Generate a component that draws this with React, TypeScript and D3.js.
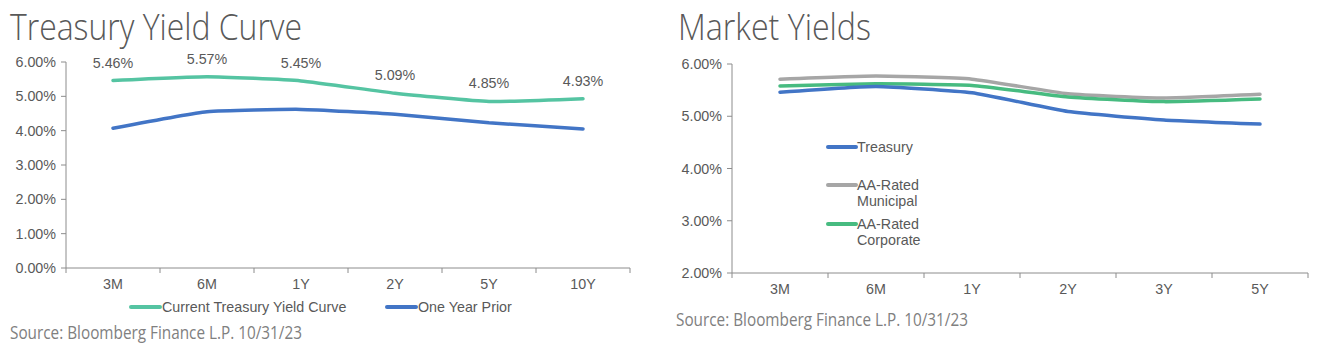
import { useRef, useEffect } from 'react';
import * as d3 from 'd3';

const leftTenors = ['3M', '6M', '1Y', '2Y', '5Y', '10Y'];
const currentCurve = [5.46, 5.57, 5.45, 5.09, 4.85, 4.93];
const priorCurve = [4.07, 4.55, 4.62, 4.48, 4.23, 4.05];
const leftTicks = [0, 1, 2, 3, 4, 5, 6];

const rightTenors = ['3M', '6M', '1Y', '2Y', '3Y', '5Y'];
const treasury = [5.46, 5.57, 5.45, 5.09, 4.93, 4.85];
const municipal = [5.71, 5.77, 5.71, 5.43, 5.35, 5.42];
const corporate = [5.58, 5.62, 5.59, 5.37, 5.28, 5.33];
const rightTicks = [2, 3, 4, 5, 6];

const TEXT = '#595959';
const AXIS = '#8c8c8c';
const GREEN_L = '#55c4a2';
const GREEN_R = '#47bb80';
const BLUE = '#4275c6';
const GRAY = '#a6a6a6';

export default function App() {
  const svgRef = useRef<SVGSVGElement>(null);

  useEffect(() => {
    if (!svgRef.current) return;
    const svg = d3.select(svgRef.current);
    svg.selectAll('*').remove();

    const tickFont = 'Liberation Sans, Arial, sans-serif';
    const titleFont = 'Open Sans, sans-serif';
    const fs = 14.3;

    const drawAxes = (
      x: d3.ScaleBand<string>,
      y: d3.ScaleLinear<number, number>,
      ticks: number[]
    ) => {
      const [x0, x1] = x.range();
      const [yb, yt] = y.range();
      const g = svg.append('g');
      // y axis line + ticks
      g.append('line').attr('x1', x0).attr('x2', x0).attr('y1', yb).attr('y2', yt)
        .attr('stroke', AXIS).attr('stroke-width', 1);
      ticks.forEach(t => {
        g.append('line').attr('x1', x0 - 5).attr('x2', x0).attr('y1', y(t)).attr('y2', y(t))
          .attr('stroke', AXIS);
        g.append('text').attr('x', x0 - 10).attr('y', y(t)).attr('dy', '0.35em')
          .attr('text-anchor', 'end').attr('font-family', tickFont).attr('font-size', fs)
          .attr('fill', TEXT).text(`${t.toFixed(2)}%`);
      });
      // x axis
      g.append('line').attr('x1', x0).attr('x2', x1).attr('y1', yb).attr('y2', yb)
        .attr('stroke', AXIS);
      const bounds = x.domain().map(d => x(d)!).concat([x1]);
      bounds.forEach(b => {
        g.append('line').attr('x1', b).attr('x2', b).attr('y1', yb).attr('y2', yb + 5)
          .attr('stroke', AXIS);
      });
      x.domain().forEach(d => {
        g.append('text').attr('x', x(d)! + x.bandwidth() / 2).attr('y', yb + 21)
          .attr('text-anchor', 'middle').attr('font-family', tickFont).attr('font-size', fs)
          .attr('fill', TEXT).text(d);
      });
    };

    const drawLine = (
      x: d3.ScaleBand<string>,
      y: d3.ScaleLinear<number, number>,
      cats: string[],
      vals: number[],
      color: string
    ) => {
      const line = d3.line<number>()
        .x((_, i) => x(cats[i])! + x.bandwidth() / 2)
        .y(d => y(d))
        .curve(d3.curveCardinal.tension(0.55));
      svg.append('path').datum(vals).attr('d', line).attr('fill', 'none')
        .attr('stroke', color).attr('stroke-width', 3.5).attr('stroke-linecap', 'round');
    };

    // ---- Treasury Yield Curve ----
    const xL = d3.scaleBand<string>().domain(leftTenors).range([66, 630]);
    const yL = d3.scaleLinear().domain([0, 6]).range([268, 62]);

    svg.append('text').attr('x', 10).attr('y', 40).attr('font-family', titleFont)
      .attr('font-weight', 300).attr('font-size', 36).attr('fill', TEXT)
      .attr('textLength', 292).attr('lengthAdjust', 'spacingAndGlyphs')
      .text('Treasury Yield Curve');

    drawAxes(xL, yL, leftTicks);
    drawLine(xL, yL, leftTenors, priorCurve, BLUE);
    drawLine(xL, yL, leftTenors, currentCurve, GREEN_L);

    currentCurve.forEach((v, i) => {
      svg.append('text').attr('x', xL(leftTenors[i])! + xL.bandwidth() / 2).attr('y', yL(v) - 13)
        .attr('text-anchor', 'middle').attr('font-family', tickFont).attr('font-size', fs)
        .attr('fill', TEXT).text(`${v.toFixed(2)}%`);
    });

    // legend
    const legL = [
      { label: 'Current Treasury Yield Curve', color: GREEN_L, x: 131 },
      { label: 'One Year Prior', color: BLUE, x: 387 },
    ];
    legL.forEach(l => {
      svg.append('line').attr('x1', l.x).attr('x2', l.x + 29).attr('y1', 307).attr('y2', 307)
        .attr('stroke', l.color).attr('stroke-width', 4).attr('stroke-linecap', 'round');
      svg.append('text').attr('x', l.x + 31).attr('y', 307).attr('dy', '0.35em')
        .attr('font-family', tickFont).attr('font-size', fs).attr('fill', TEXT).text(l.label);
    });

    svg.append('text').attr('x', 10).attr('y', 339).attr('font-family', titleFont)
      .attr('font-size', 17.5).attr('fill', '#808080')
      .attr('textLength', 292).attr('lengthAdjust', 'spacingAndGlyphs')
      .text('Source: Bloomberg Finance L.P. 10/31/23');

    // ---- Market Yields ----
    const xR = d3.scaleBand<string>().domain(rightTenors).range([732, 1308]);
    const yR = d3.scaleLinear().domain([2, 6]).range([273, 64]);

    svg.append('text').attr('x', 678).attr('y', 40).attr('font-family', titleFont)
      .attr('font-weight', 300).attr('font-size', 36).attr('fill', TEXT)
      .attr('textLength', 193).attr('lengthAdjust', 'spacingAndGlyphs')
      .text('Market Yields');

    drawAxes(xR, yR, rightTicks);
    drawLine(xR, yR, rightTenors, municipal, GRAY);
    drawLine(xR, yR, rightTenors, corporate, GREEN_R);
    drawLine(xR, yR, rightTenors, treasury, BLUE);

    const legR = [
      { lines: ['Treasury'], color: BLUE, y: 147 },
      { lines: ['AA-Rated', 'Municipal'], color: GRAY, y: 185 },
      { lines: ['AA-Rated', 'Corporate'], color: GREEN_R, y: 224 },
    ];
    legR.forEach(l => {
      svg.append('line').attr('x1', 828).attr('x2', 856).attr('y1', l.y).attr('y2', l.y)
        .attr('stroke', l.color).attr('stroke-width', 4).attr('stroke-linecap', 'round');
      l.lines.forEach((t, j) => {
        svg.append('text').attr('x', 857).attr('y', l.y + j * 16).attr('dy', '0.35em')
          .attr('font-family', tickFont).attr('font-size', fs).attr('fill', TEXT).text(t);
      });
    });

    svg.append('text').attr('x', 676).attr('y', 326).attr('font-family', titleFont)
      .attr('font-size', 17.5).attr('fill', '#808080')
      .attr('textLength', 292).attr('lengthAdjust', 'spacingAndGlyphs')
      .text('Source: Bloomberg Finance L.P. 10/31/23');
  }, []);

  return (
    <div style={{ position: 'absolute', left: 0, top: 0 }}>
      <svg ref={svgRef} width={1331} height={351} style={{ display: 'block', background: '#fff' }} />
    </div>
  );
}
